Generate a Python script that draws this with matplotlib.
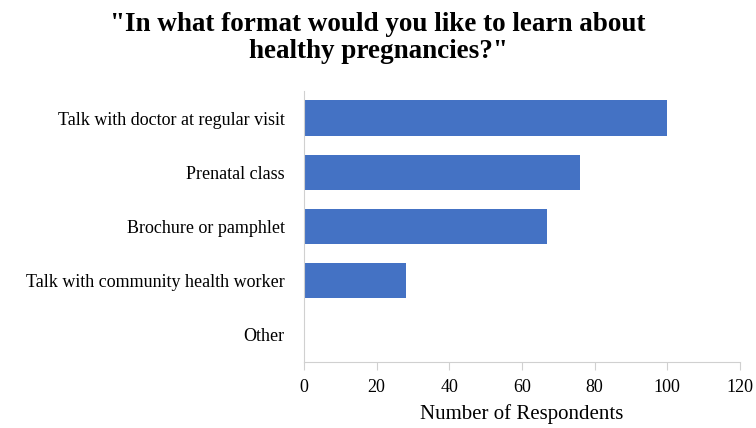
import matplotlib
matplotlib.use("Agg")
import matplotlib.pyplot as plt

categories = ["Talk with doctor at regular visit", "Prenatal class", "Brochure or pamphlet",
              "Talk with community health worker", "Other"]
values = [100, 76, 67, 28, 0]
xticks = [0, 20, 40, 60, 80, 100, 120]

plt.rcParams['font.family'] = ['Liberation Serif', 'DejaVu Serif']
fig = plt.figure(figsize=(7.56, 4.28), dpi=100)
ax = fig.add_axes([304/756, 1-362/428, 436/756, 271/428])
y = list(range(len(categories)))
ax.barh(y, values, height=0.65, color="#4472C4")
ax.set_ylim(len(categories)-0.5, -0.5)
ax.set_xlim(0, 120)
ax.set_xticks(xticks)
ax.set_yticks(y)
ax.set_yticklabels(categories, fontsize=13)
ax.tick_params(axis='x', labelsize=13, length=6, color="#D0D0D0", pad=6)
ax.tick_params(axis='y', length=0, pad=14)
for s in ["top", "right"]:
    ax.spines[s].set_visible(False)
for s in ["left", "bottom"]:
    ax.spines[s].set_color("#D0D0D0")
ax.set_xlabel("Number of Respondents", fontsize=15, labelpad=6)
fig.text(378/756, 1-38/428, "\"In what format would you like to learn about\nhealthy pregnancies?\"",
         ha="center", va="center", fontsize=19.5, fontweight="bold", linespacing=1.1)
fig.savefig("out.png", dpi=100)
